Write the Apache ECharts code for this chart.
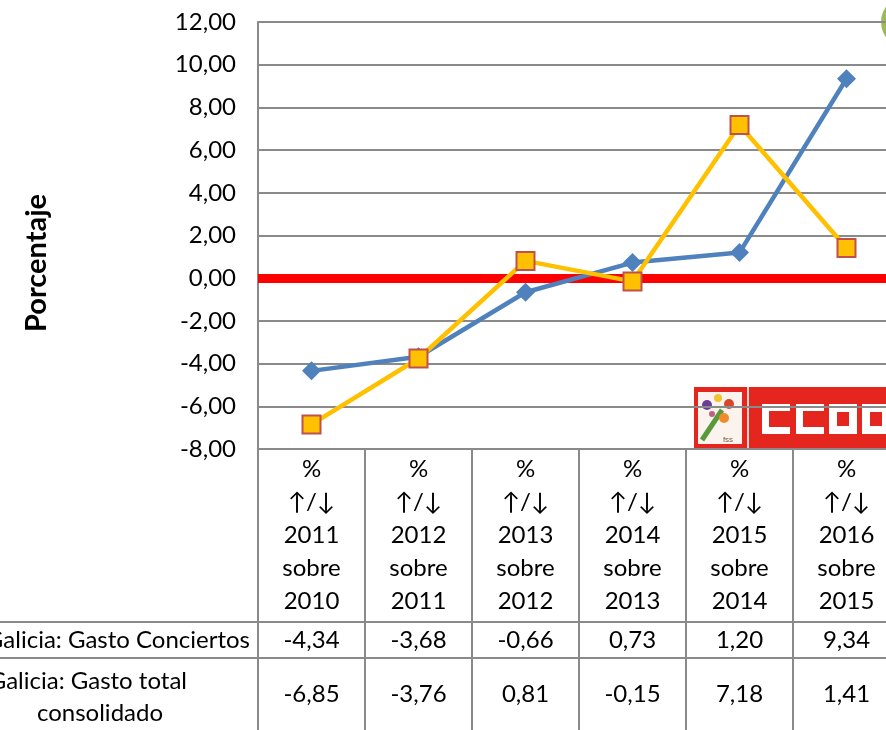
<!DOCTYPE html>
<html>
<head>
<meta charset="UTF-8">
<title></title>
<style>
  html, body { margin: 0; padding: 0; background: #fff; overflow: hidden; }
  #chart { width: 900px; height: 730px; }
</style>
</head>
<body>
<div id="chart"></div>
<script src="https://cdn.jsdelivr.net/npm/echarts@6/dist/echarts.min.js"></script>
<script>
// etiquetas de categoria (fila de cabecera de la tabla)
var categorias = [
  '%\n↑/↓\n2011\nsobre\n2010',
  '%\n↑/↓\n2012\nsobre\n2011',
  '%\n↑/↓\n2013\nsobre\n2012',
  '%\n↑/↓\n2014\nsobre\n2013',
  '%\n↑/↓\n2015\nsobre\n2014',
  '%\n↑/↓\n2016\nsobre\n2015'
];
var conciertos = [-4.34, -3.68, -0.66, 0.73, 1.20, 9.34];
var gastoTotal = [-6.85, -3.76, 0.81, -0.15, 7.18, 1.41];
var nombreConciertos = 'Galicia: Gasto Conciertos';
var nombreTotal = ['Galicia: Gasto total', 'consolidado'];
var yMin = -8, yMax = 12, yPaso = 2;

var gris = '#8a8a8a';
var fuente = 'Lato, "DejaVu Sans", sans-serif';
var tam = 24;

function coma(v) {
  return v.toFixed(2).replace('.', ',');
}

// el grafico original sigue a la derecha del recorte: el lienzo es algo mas ancho que la ventana
var chart = echarts.init(document.getElementById('chart'));

// logo CCOO (decorativo, por debajo de la rejilla)
var logo = [
  { type: 'rect', shape: { x: 694, y: 387, width: 210, height: 61 }, style: { fill: '#e5261f' } },
  { type: 'rect', shape: { x: 698, y: 392, width: 44, height: 52 }, style: { fill: '#fbf3ee' } },
  { type: 'rect', shape: { x: 747, y: 387, width: 2, height: 61 }, style: { fill: '#f6d6d0' } },
  { type: 'polyline', shape: { points: [[702, 440], [712, 425], [722, 410]] }, style: { stroke: '#5a9a3a', lineWidth: 5, fill: null } },
  { type: 'circle', shape: { cx: 707, cy: 405, r: 5 }, style: { fill: '#6a3d9a' } },
  { type: 'circle', shape: { cx: 718, cy: 398, r: 4 }, style: { fill: '#f2c230' } },
  { type: 'circle', shape: { cx: 729, cy: 404, r: 5 }, style: { fill: '#d9472b' } },
  { type: 'circle', shape: { cx: 724, cy: 418, r: 5 }, style: { fill: '#ef8a2d' } },
  { type: 'circle', shape: { cx: 712, cy: 414, r: 3 }, style: { fill: '#c06080' } },
  { type: 'text', style: { x: 728, y: 440, text: 'fss', fill: '#7a5a40', font: '8px sans-serif', textAlign: 'center', textVerticalAlign: 'middle' } }
];
var letrasX = [762, 796, 829, 862];
letrasX.forEach(function (x, i) {
  logo.push({ type: 'rect', shape: { x: x, y: 404, width: 28, height: 30 }, style: { fill: '#ffffff' } });
  if (i < 2) {
    logo.push({ type: 'rect', shape: { x: x + 7, y: 411, width: 21, height: 16 }, style: { fill: '#e5261f' } });
  } else {
    logo.push({ type: 'rect', shape: { x: x + 8, y: 412, width: 12, height: 14 }, style: { fill: '#e5261f' } });
  }
});
logo.forEach(function (g) { g.zlevel = -1; g.silent = true; });

var option = {
  animation: false,
  grid: { left: 258, top: 22, right: 0, bottom: 281, containLabel: false },
  xAxis: [
    {
      type: 'category',
      data: categorias,
      position: 'bottom',
      axisLine: { show: true, onZero: false, lineStyle: { color: gris, width: 2 } },
      axisTick: { show: true, length: 173, lineStyle: { color: gris, width: 2 } },
      axisLabel: { interval: 0, margin: 4, fontSize: tam, lineHeight: 33, color: '#000', fontFamily: fuente }
    },
    {
      type: 'category',
      data: categorias,
      position: 'bottom',
      offset: 173,
      axisLine: { show: true, onZero: false, lineStyle: { color: gris, width: 2 } },
      axisTick: { show: true, length: 36, lineStyle: { color: gris, width: 2 } },
      axisLabel: {
        interval: 0, margin: 0, fontSize: tam, lineHeight: 36, color: '#000', fontFamily: fuente,
        formatter: function (v, i) { return coma(conciertos[i]); }
      }
    },
    {
      type: 'category',
      data: categorias,
      position: 'bottom',
      offset: 209,
      axisLine: { show: true, onZero: false, lineStyle: { color: gris, width: 2 } },
      axisTick: { show: true, length: 80, lineStyle: { color: gris, width: 2 } },
      axisLabel: {
        interval: 0, margin: 0, fontSize: tam, lineHeight: 72, color: '#000', fontFamily: fuente,
        formatter: function (v, i) { return coma(gastoTotal[i]); }
      }
    }
  ],
  yAxis: {
    type: 'value',
    min: yMin,
    max: yMax,
    interval: yPaso,
    axisLine: { show: true, lineStyle: { color: gris, width: 2 } },
    axisTick: { show: false },
    splitLine: { show: true, lineStyle: { color: gris, width: 2 } },
    axisLabel: { margin: 22, fontSize: tam, color: '#000', fontFamily: fuente, formatter: coma }
  },
  series: [
    {
      name: nombreConciertos,
      type: 'line',
      data: conciertos,
      symbol: 'diamond',
      symbolSize: 19,
      lineStyle: { color: '#4f81bd', width: 4.5 },
      itemStyle: { color: '#4f81bd' },
      markLine: {
        silent: true,
        symbol: 'none',
        label: { show: false },
        lineStyle: { color: '#ff0000', width: 9, type: 'solid' },
        data: [{ yAxis: 0 }],
        z: 1
      }
    },
    {
      name: nombreTotal.join(' '),
      type: 'line',
      data: gastoTotal,
      symbol: 'rect',
      symbolSize: 18,
      lineStyle: { color: '#ffc000', width: 4.5 },
      itemStyle: { color: '#ffc000', borderColor: '#c0504d', borderWidth: 2 }
    }
  ],
  graphic: logo.concat([
    { type: 'circle', shape: { cx: 907, cy: 22, r: 26 }, style: { fill: '#9bbb59' } },
    {
      type: 'text', x: 37, y: 263, rotation: Math.PI / 2,
      style: { text: 'Porcentaje', font: 'bold 29px ' + fuente, fill: '#000', textAlign: 'center', textVerticalAlign: 'middle' }
    },
    { type: 'line', shape: { x1: 0, y1: 622, x2: 258, y2: 622 }, style: { stroke: gris, lineWidth: 2 } },
    { type: 'line', shape: { x1: 0, y1: 658, x2: 258, y2: 658 }, style: { stroke: gris, lineWidth: 2 } },
    {
      type: 'text', style: { x: 250, y: 640, text: nombreConciertos, font: tam + 'px ' + fuente, fill: '#000', textAlign: 'right', textVerticalAlign: 'middle' }
    },
    {
      type: 'text', style: { x: 187, y: 681, text: nombreTotal[0], font: tam + 'px ' + fuente, fill: '#000', textAlign: 'right', textVerticalAlign: 'middle' }
    },
    {
      type: 'text', style: { x: 100, y: 713, text: nombreTotal[1], font: tam + 'px ' + fuente, fill: '#000', textAlign: 'center', textVerticalAlign: 'middle' }
    }
  ])
};

chart.setOption(option);
</script>
</body>
</html>
